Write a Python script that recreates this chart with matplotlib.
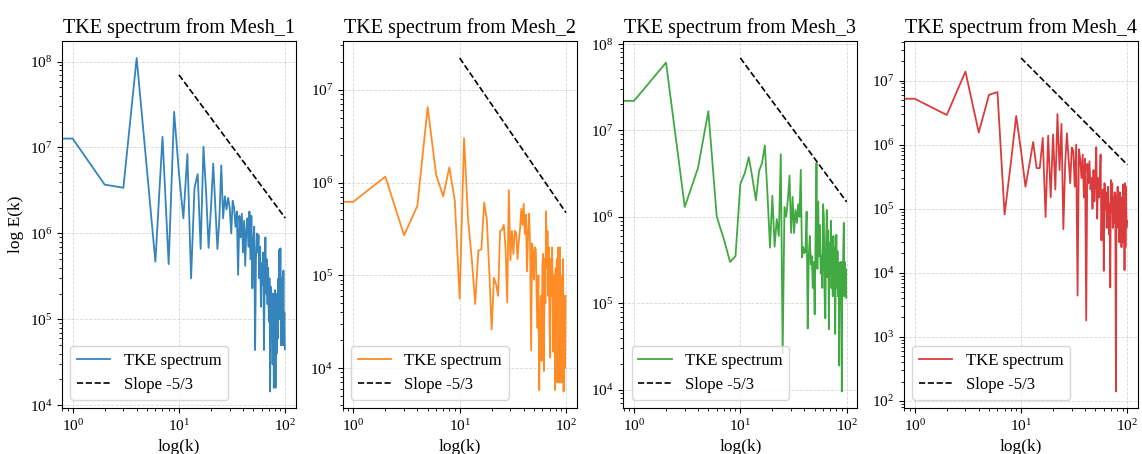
import numpy as np
import matplotlib
matplotlib.use("Agg")
import matplotlib.pyplot as plt

plt.rcParams['font.family'] = ['Liberation Serif', 'DejaVu Serif']

# energy spectrum per mesh, index = wavenumber k (k=0 is the mean mode)
E_mesh1 = [1.27e7, 1.27e7, 3.7e6, 3.4e6, 1.1e8, 5.5e6, 4.7e5, 1.33e7, 4.4e5, 2.6e7,
           5.0e6, 1.5e6, 8.4e6, 3.0e5, 3.4e6, 4.9e6, 6.6e5, 1.02e7, 3.0e6, 6.8e5,
           2.0e6, 6.5e6, 2.0e6, 6.6e5, 1.5e6, 6.2e6, 1.5e6, 2.7e6, 1.9e6, 2.6e6,
           2.0e6, 1.0e6, 2.4e6, 2.0e6, 1.2e6, 1.8e6, 3.3e5, 1.6e6, 9.0e5, 1.7e6,
           6.0e5, 1.4e6, 4.2e5, 1.1e6, 1.5e6, 7.0e5, 1.8e6, 5.0e5, 1.6e6, 2.3e5,
           8.0e5, 1.2e6, 4.4e4, 5.0e5, 1.0e6, 6.0e5, 9.6e5, 3.0e5, 7.0e5, 1.4e5,
           4.5e5, 2.5e5, 6.0e5, 4.4e4, 3.0e5, 9.0e5, 2.0e5, 5.0e5, 1.5e5, 4.0e5,
           9.5e4, 3.0e5, 1.45e4, 2.4e5, 6.0e4, 1.5e5, 3.0e4, 2.0e5, 1.6e4, 8.0e4,
           2.2e5, 1.6e4, 1.2e5, 4.0e4, 2.0e5, 6.0e4, 3.0e5, 1.0e5, 6.5e5, 1.5e5,
           6.7e5, 5.0e4, 3.0e5, 1.0e5, 2.5e5, 5.0e4, 3.7e5, 6.0e4, 1.2e5, 4.5e4]

E_mesh2 = [6.2e5, 6.2e5, 1.16e6, 2.7e5, 5.6e5, 6.5e6, 1.22e6, 7.1e5, 1.46e6, 6.4e5,
           5.6e4, 3.0e6, 4.0e5, 1.5e5, 4.9e4, 1.85e5, 1.9e5, 6.1e5, 4.0e5, 1.1e5,
           2.6e4, 9.4e4, 8.0e4, 6.0e4, 3.0e5, 3.1e5, 3.5e5, 2.0e5, 5.1e4, 8.3e5,
           1.45e5, 3.0e5, 1.7e5, 3.0e5, 2.9e5, 1.5e5, 2.3e5, 3.2e5, 5.2e5, 3.5e5,
           5.9e5, 2.8e5, 4.5e5, 1.1e5, 3.0e5, 4.6e5, 2.0e5, 1.55e4, 2.2e5, 1.8e5,
           9.0e4, 2.0e5, 1.9e5, 6.0e4, 2.7e4, 1.0e5, 5.8e3, 3.0e4, 6.0e4, 1.2e4,
           1.3e5, 1.7e5, 9.3e3, 1.5e5, 5.0e4, 4.9e5, 1.2e5, 3.0e5, 6.0e4, 2.0e5,
           3.0e4, 1.3e4, 1.5e5, 6.0e4, 2.0e5, 8.0e4, 1.5e4, 1.0e5, 5.0e4, 5.8e3,
           1.2e5, 2.0e4, 1.5e5, 7.0e3, 2.0e5, 3.0e4, 7.0e3, 1.2e5, 2.0e5, 7.0e3,
           1.0e5, 2.0e4, 6.0e4, 7.0e3, 1.5e5, 5.6e3, 3.0e4, 6.0e4, 1.0e4, 6.0e4]

E_mesh3 = [2.2e7, 2.2e7, 6.1e7, 1.3e6, 3.7e6, 1.67e7, 1.0e6, 5.5e5, 3.0e5, 3.5e5,
           2.4e6, 3.2e6, 4.9e6, 2.8e6, 1.55e6, 3.4e6, 4.2e6, 6.7e6, 1.8e6, 4.4e5,
           1.75e6, 4.5e5, 9.4e5, 6.0e5, 5.3e6, 2.6e4, 1.3e6, 1.0e6, 1.6e6, 3.0e6,
           6.5e5, 1.7e6, 6.5e5, 1.2e6, 8.5e5, 1.4e6, 1.0e6, 3.5e6, 3.4e5, 4.5e5,
           3.8e5, 4.0e5, 1.15e6, 5.1e4, 3.5e5, 6.0e5, 2.8e5, 3.5e5, 1.5e5, 3.0e5,
           7.4e4, 6.0e5, 4.2e6, 2.5e5, 1.5e6, 3.5e5, 8.0e5, 2.2e5, 3.5e5, 1.5e5,
           1.4e6, 1.0e6, 1.2e5, 6.7e4, 5.0e5, 1.2e6, 2.0e5, 7.0e5, 5.0e4, 5.0e5,
           2.2e5, 9.0e5, 1.5e5, 4.0e5, 1.2e5, 6.0e5, 2.0e5, 4.4e5, 4.4e4, 3.0e5,
           6.2e5, 1.5e5, 4.0e5, 1.2e5, 3.0e5, 1.9e4, 2.5e5, 1.0e5, 3.0e5, 1.5e5,
           9.5e3, 3.0e5, 1.5e5, 4.5e5, 8.5e5, 1.2e5, 3.0e5, 1.5e5, 2.5e5, 1.15e5]

E_mesh4 = [5.2e6, 5.2e6, 2.9e6, 1.38e7, 1.55e6, 6.0e6, 6.6e6, 8.1e4, 5.0e5, 2.8e6,
           8.0e5, 2.2e5, 5.0e5, 1.1e6, 4.3e5, 4.3e5, 1.27e6, 7.4e4, 1.38e6, 1.5e5,
           1.44e6, 2.0e5, 3.0e6, 4.0e5, 2.1e6, 4.8e4, 5.0e5, 1.5e6, 6.0e5, 2.5e5,
           9.0e5, 8.0e5, 2.2e5, 1.0e6, 4.4e3, 8.5e5, 6.0e5, 3.0e5, 7.0e5, 1.5e5,
           6.0e5, 1.8e3, 5.0e5, 2.5e5, 5.5e5, 2.0e5, 3.0e5, 1.0e5, 4.0e5, 1.3e5,
           3.0e5, 9.1e5, 7.0e4, 3.0e5, 1.5e5, 2.8e5, 7.0e5, 3.2e4, 1.5e5, 2.0e5,
           1.07e4, 2.5e5, 1.0e5, 1.8e5, 5.0e4, 1.5e5, 2.2e5, 4.0e4, 1.2e5, 5.9e3,
           2.8e5, 9.0e4, 2.5e5, 5.0e4, 1.5e5, 6.0e4, 1.8e5, 8.0e4, 1.4e2, 1.6e5,
           1.0e5, 2.2e5, 5.0e4, 1.2e5, 3.0e4, 1.8e5, 6.0e4, 1.5e5, 2.5e4, 1.5e5,
           1.0e5, 2.4e5, 3.0e4, 2.0e5, 1.1e4, 2.5e5, 2.5e4, 2.2e5, 5.0e4, 6.5e4]

spectra = [E_mesh1, E_mesh2, E_mesh3, E_mesh4]
mesh_names = ['Mesh_1', 'Mesh_2', 'Mesh_3', 'Mesh_4']
colors = ['tab:blue', 'tab:orange', 'tab:green', 'tab:red']

# reference -5/3 line: value at k=10, drawn over k = 10..100
slope_E10 = [7.0e7, 2.2e7, 6.9e7, 2.25e7]
k_slope = np.arange(10, 101)

fig, axes = plt.subplots(1, 4, figsize=(11.42, 4.54), dpi=100)
fig.subplots_adjust(left=0.0543, right=0.9965, bottom=0.101, top=0.909, wspace=0.2)

for ax, E, name, c, E10 in zip(axes, spectra, mesh_names, colors, slope_E10):
    k = np.arange(len(E))
    ax.loglog(k, E, color=c, lw=1.3, alpha=0.9, label='TKE spectrum')
    ax.loglog(k_slope, E10 * (k_slope / 10.0) ** (-5.0 / 3.0), 'k--', lw=1.2,
              label='Slope -5/3')
    ax.set_title('TKE spectrum from ' + name, fontsize=14.5)
    ax.set_xlabel('log(k)', fontsize=12.5)
    ax.tick_params(labelsize=11)
    ax.grid(True, which='major', ls='--', lw=0.6, alpha=0.5)
    ax.legend(loc='lower left', fontsize=12)

axes[0].set_ylabel('log E(k)', fontsize=12.5)

plt.savefig('out.png')
